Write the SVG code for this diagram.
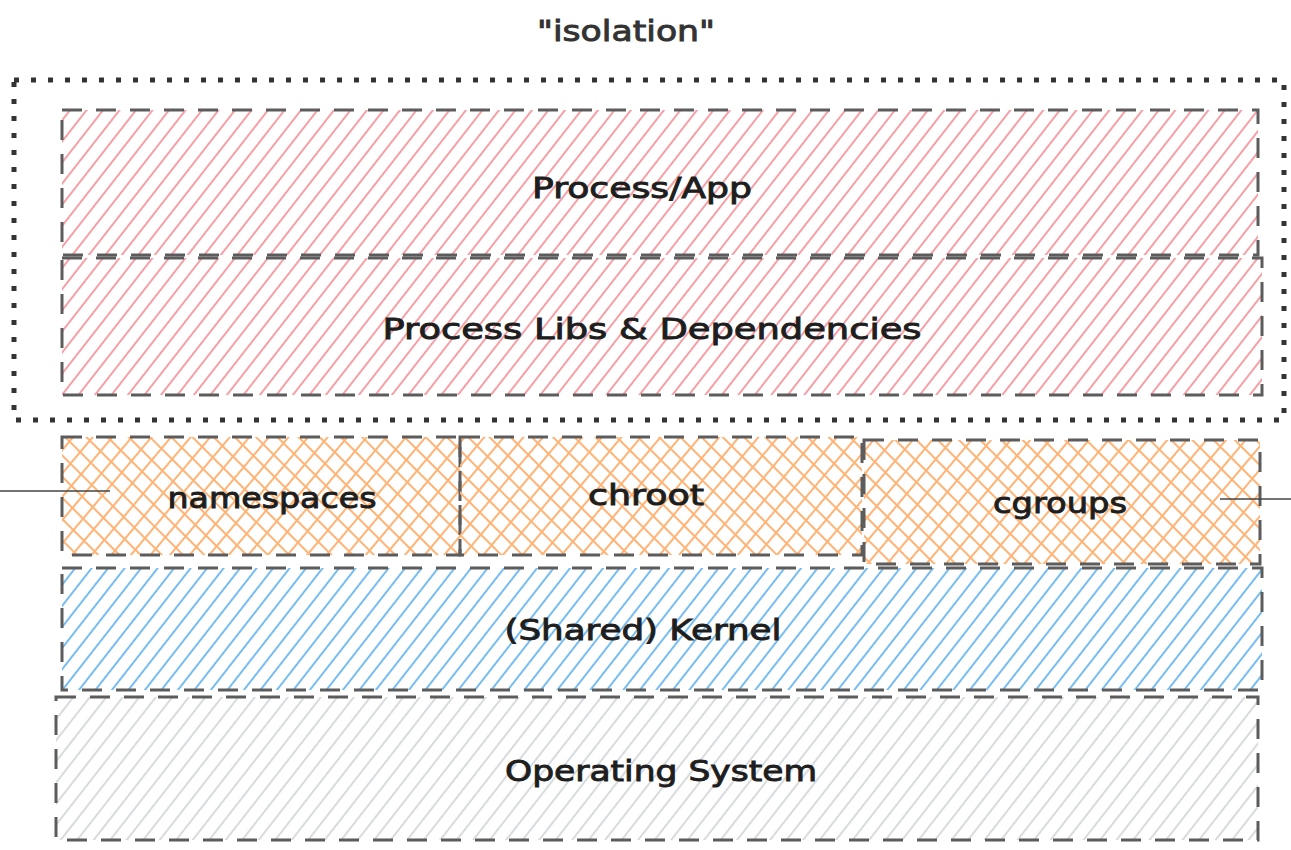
<svg xmlns="http://www.w3.org/2000/svg" width="1291" height="850" viewBox="0 0 1291 850">
<defs>
<pattern id="hRed" patternUnits="userSpaceOnUse" width="13" height="13" patternTransform="rotate(38)">
<line x1="6" y1="0" x2="6" y2="13" stroke="#f5a0a6" stroke-width="2"/>
</pattern>
<pattern id="hBlue" patternUnits="userSpaceOnUse" width="13" height="13" patternTransform="rotate(38)">
<line x1="6" y1="0" x2="6" y2="13" stroke="#78bdf0" stroke-width="2"/>
</pattern>
<pattern id="hGrey" patternUnits="userSpaceOnUse" width="13" height="13" patternTransform="rotate(38)">
<line x1="6" y1="0" x2="6" y2="13" stroke="#d8dbde" stroke-width="2"/>
</pattern>
<pattern id="hOrA" patternUnits="userSpaceOnUse" width="15" height="15" patternTransform="rotate(40)">
<line x1="7" y1="0" x2="7" y2="15" stroke="#ffb374" stroke-width="2"/>
</pattern>
<pattern id="hOrB" patternUnits="userSpaceOnUse" width="15" height="15" patternTransform="rotate(-45)">
<line x1="7" y1="0" x2="7" y2="15" stroke="#ffb374" stroke-width="2"/>
</pattern>
</defs>
<style>
.box{stroke:#5c5c5c;stroke-width:3;stroke-dasharray:20 14;fill:none}
.lbl{font-family:"DejaVu Sans","Liberation Sans",sans-serif;font-size:28px;fill:#1e1e1e;stroke:#1e1e1e;stroke-width:0.9;text-anchor:middle;dominant-baseline:middle}
.line{stroke:#444;stroke-width:1.5}
</style>
<rect width="1291" height="850" fill="#ffffff"/>
<text class="lbl" x="626" y="33" textLength="178" lengthAdjust="spacingAndGlyphs" style="fill:#333;stroke:#333">"isolation"</text>
<g id="isolation">
<rect x="14" y="80" width="1270" height="340" fill="none" stroke="#333" stroke-width="5" stroke-dasharray="5 12"/>
</g>
<g id="process-app">
<rect x="62" y="110" width="1196" height="145" fill="url(#hRed)"/>
<rect class="box" x="62" y="110" width="1196" height="145"/>
<text class="lbl" x="642" y="190" textLength="220" lengthAdjust="spacingAndGlyphs">Process/App</text>
</g>
<g id="process-libs">
<rect x="62" y="258" width="1200" height="137" fill="url(#hRed)"/>
<rect class="box" x="62" y="258" width="1200" height="137"/>
<text class="lbl" x="652" y="331" textLength="539" lengthAdjust="spacingAndGlyphs">Process Libs &amp; Dependencies</text>
</g>
<g id="namespaces">
<rect x="62" y="437" width="398" height="118" fill="url(#hOrA)"/>
<rect x="62" y="437" width="398" height="118" fill="url(#hOrB)"/>
<rect class="box" x="62" y="437" width="398" height="118"/>
<text class="lbl" x="272" y="500" textLength="209" lengthAdjust="spacingAndGlyphs">namespaces</text>
</g>
<g id="chroot">
<rect x="460" y="437" width="402" height="118" fill="url(#hOrA)"/>
<rect x="460" y="437" width="402" height="118" fill="url(#hOrB)"/>
<rect class="box" x="460" y="437" width="402" height="118"/>
<text class="lbl" x="646" y="497" textLength="116" lengthAdjust="spacingAndGlyphs">chroot</text>
</g>
<g id="cgroups">
<rect x="864" y="440" width="396" height="124" fill="url(#hOrA)"/>
<rect x="864" y="440" width="396" height="124" fill="url(#hOrB)"/>
<rect class="box" x="864" y="440" width="396" height="124"/>
<text class="lbl" x="1060" y="505" textLength="134" lengthAdjust="spacingAndGlyphs">cgroups</text>
</g>
<g id="kernel">
<rect x="62" y="568" width="1200" height="122" fill="url(#hBlue)"/>
<rect class="box" x="62" y="568" width="1200" height="122"/>
<text class="lbl" x="643" y="632" textLength="277" lengthAdjust="spacingAndGlyphs">(Shared) Kernel</text>
</g>
<g id="os">
<rect x="56" y="697" width="1202" height="143" fill="url(#hGrey)"/>
<rect class="box" x="56" y="697" width="1202" height="143"/>
<text class="lbl" x="661" y="773" textLength="312" lengthAdjust="spacingAndGlyphs">Operating System</text>
</g>
<g id="connectors">
<line class="line" x1="0" y1="491" x2="110" y2="491"/>
<line class="line" x1="1220" y1="499" x2="1291" y2="499"/>
</g>
</svg>
